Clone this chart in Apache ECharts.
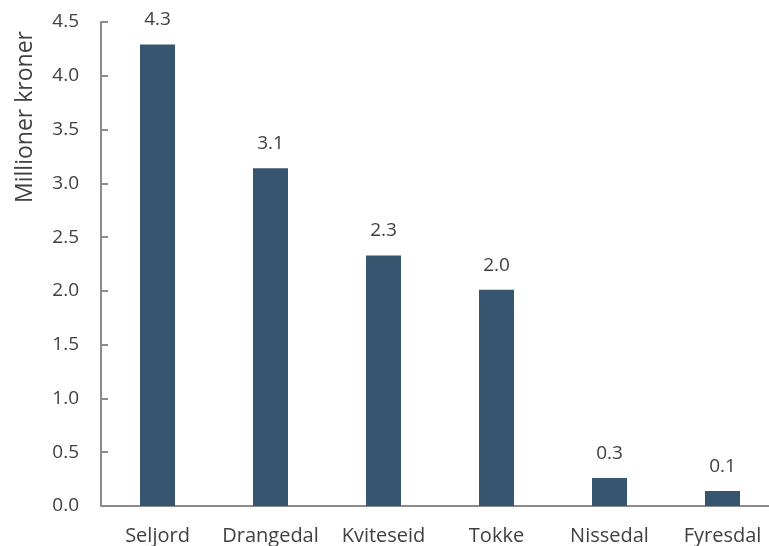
<!DOCTYPE html>
<html>
<head>
<meta charset="utf-8">
<script src="https://cdn.jsdelivr.net/npm/echarts@6/dist/echarts.min.js"></script>
<style>
  html, body { margin: 0; padding: 0; background: #fff; overflow: hidden; }
  /* plot runs past the right edge in the reference, so the canvas is a bit wider than the window */
  #chart { width: 779px; height: 546px; }
</style>
</head>
<body>
<div id="chart"></div>
<script>
// kommuner og verdier (millioner kroner)
var categories = ["Seljord", "Drangedal", "Kviteseid", "Tokke", "Nissedal", "Fyresdal"];
var values = [4.29, 3.14, 2.33, 2.01, 0.26, 0.14];
var yTicks = [0, 0.5, 1, 1.5, 2, 2.5, 3, 3.5, 4, 4.5];

var FONT = "Open Sans";
var myChart = echarts.init(document.getElementById("chart"));

var option = {
  animation: false,
  grid: { left: 101, right: 0, top: 22, bottom: 40 },
  graphic: [
    {
      type: "text",
      x: 25,
      y: 117,
      rotation: Math.PI / 2,
      style: {
        text: "Millioner kroner",
        font: "23px " + FONT,
        fill: "#404040",
        align: "center",
        verticalAlign: "middle"
      }
    }
  ],
  xAxis: {
    type: "category",
    data: categories,
    axisLine: { lineStyle: { color: "#8c8c8c", width: 2 } },
    axisTick: { show: false },
    axisLabel: {
      color: "#404040",
      fontSize: 20,
      fontFamily: FONT,
      margin: 20,
      interval: 0,
      hideOverlap: false
    }
  },
  yAxis: {
    type: "value",
    min: yTicks[0],
    max: yTicks[yTicks.length - 1],
    interval: 0.5,
    splitLine: { show: false },
    axisLine: { show: true, lineStyle: { color: "#8c8c8c", width: 2 } },
    axisTick: { show: true, inside: true, length: 7, lineStyle: { color: "#8c8c8c", width: 2 } },
    axisLabel: {
      color: "#404040",
      fontSize: 19,
      fontFamily: FONT,
      margin: 22,
      formatter: function (v) { return v.toFixed(1); }
    }
  },
  series: [
    {
      type: "bar",
      data: values,
      barWidth: 35,
      itemStyle: { color: "#385570" },
      label: {
        show: true,
        position: "top",
        distance: 15,
        color: "#404040",
        fontSize: 19,
        fontFamily: FONT,
        formatter: function (p) { return p.value.toFixed(1); }
      }
    }
  ]
};

myChart.setOption(option, true);
</script>
</body>
</html>
